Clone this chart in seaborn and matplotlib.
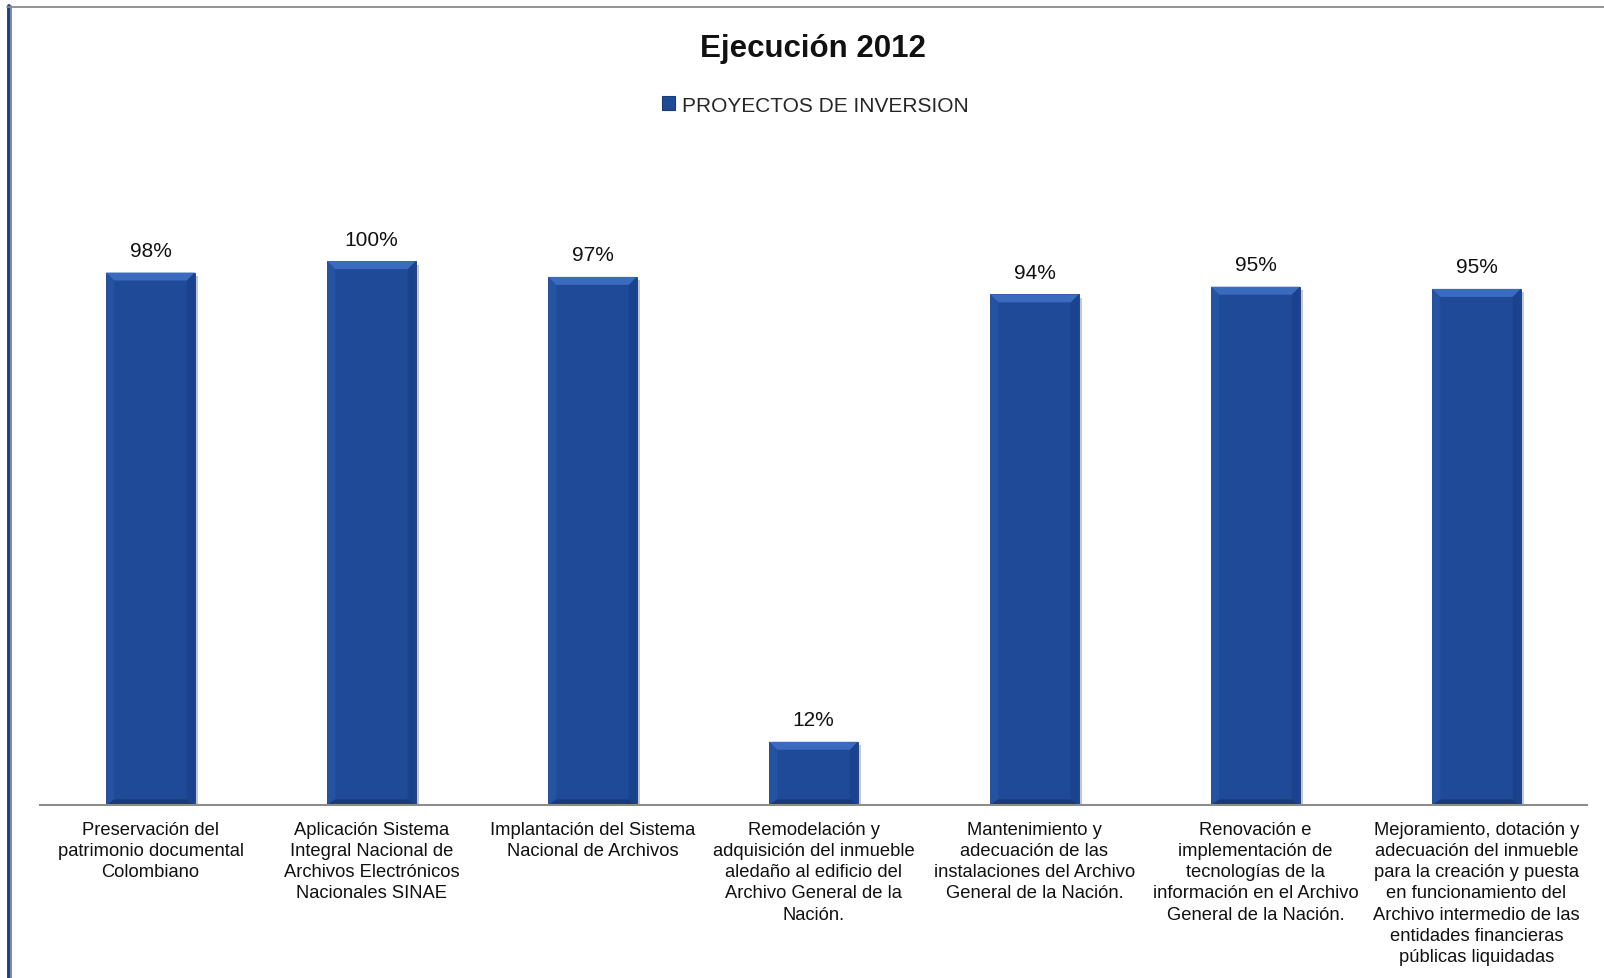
import matplotlib
matplotlib.use("Agg")
import matplotlib.pyplot as plt
import matplotlib.patheffects as pe
from matplotlib.lines import Line2D
from matplotlib.patches import Patch, Polygon
import seaborn as sns
import pandas as pd

categories = [
    "Preservación del\npatrimonio documental\nColombiano",
    "Aplicación Sistema\nIntegral Nacional de\nArchivos Electrónicos\nNacionales SINAE",
    "Implantación del Sistema\nNacional de Archivos",
    "Remodelación y\nadquisición del inmueble\naledaño al edificio del\nArchivo General de la\nNación.",
    "Mantenimiento y\nadecuación de las\ninstalaciones del Archivo\nGeneral de la Nación.",
    "Renovación e\nimplementación de\ntecnologías de la\ninformación en el Archivo\nGeneral de la Nación.",
    "Mejoramiento, dotación y\nadecuación del inmueble\npara la creación y puesta\nen funcionamiento del\nArchivo intermedio de las\nentidades financieras\npúblicas liquidadas",
]
values = [0.977, 0.998, 0.969, 0.116, 0.937, 0.951, 0.947]
value_labels = ["98%", "100%", "97%", "12%", "94%", "95%", "95%"]
series_name = "PROYECTOS DE INVERSION"
title = "Ejecución 2012"

sns.set_theme(style="white")
plt.rcParams["font.family"] = ["Liberation Sans", "DejaVu Sans"]

BAR = "#1F4A98"

fig = plt.figure(figsize=(16.04, 9.79), dpi=100)
fig.patch.set_facecolor("white")
ax = fig.add_axes([40 / 1604, 1 - 806 / 979, (1587 - 40) / 1604, 654 / 979])

df = pd.DataFrame({"cat": categories, "val": values})
sns.barplot(data=df, x="cat", y="val", color=BAR, width=0.4, ax=ax,
            edgecolor="#18397a", linewidth=0.6, saturation=1)

ax.set_xlim(-0.5, 6.5)
ax.set_ylim(0, 1.2)

for p in list(ax.patches):
    p.set_path_effects([pe.SimplePatchShadow(offset=(2.5, -2.5), alpha=0.22, shadow_rgbFace="black"),
                        pe.Normal()])

# bevel decoration derived from each bar patch
bx = 0.7 * 7 / 1547 * 8 / 0.7   # ~8 px in data x
by = 1.2 / 654 * 8              # ~8 px in data y
for p in list(ax.patches):
    x0, w, h = p.get_x(), p.get_width(), p.get_height()
    x1 = x0 + w
    top = [(x0, h), (x1, h), (x1 - bx, h - by), (x0 + bx, h - by)]
    left = [(x0, 0), (x0, h), (x0 + bx, h - by), (x0 + bx, by * 0.7)]
    right = [(x1, 0), (x1, h), (x1 - bx, h - by), (x1 - bx, by * 0.7)]
    bottom = [(x0, 0), (x1, 0), (x1 - bx, by * 0.7), (x0 + bx, by * 0.7)]
    for pts, col in [(left, "#2453A3"), (right, "#1B428C"), (bottom, "#19397A"), (top, "#3A6BBE")]:
        ax.add_patch(Polygon(pts, closed=True, facecolor=col, edgecolor="none", zorder=p.get_zorder() + 0.1))

ax.bar_label(ax.containers[0], labels=value_labels, padding=9, fontsize=15, color="#111111")

ax.set_xlabel("")
ax.set_ylabel("")
ax.set_yticks([])
ax.tick_params(axis="x", length=0, pad=11.5, labelsize=13.2, colors="#111111")
for t in ax.get_xticklabels():
    t.set_linespacing(1.32)
    t.set_verticalalignment("top")
for s in ["top", "left", "right"]:
    ax.spines[s].set_visible(False)
ax.spines["bottom"].set_color("#8c8c8c")
ax.spines["bottom"].set_linewidth(1.5)
ax.spines["bottom"].set_zorder(5)

fig.text(813 / 1604, 1 - 49 / 979, title, ha="center", va="center",
         fontsize=22.5, fontweight="bold", color="#111111")

handle = Patch(facecolor=BAR, edgecolor="#18397a", linewidth=0.8)
fig.legend([handle], [series_name], loc="center", bbox_to_anchor=(815 / 1604, 1 - 106 / 979),
           frameon=False, fontsize=15, handlelength=0.65, handleheight=0.65, handletextpad=0.3)

# frame borders
fig.add_artist(Line2D([8.5 / 1604, 8.5 / 1604], [0, 1 - 7 / 979], transform=fig.transFigure,
                      color="#1B3F8F", linewidth=2.8))
fig.add_artist(Line2D([11 / 1604, 11 / 1604], [0, 1 - 7 / 979], transform=fig.transFigure,
                      color="#8a8a8a", linewidth=1.4))
fig.add_artist(Line2D([7 / 1604, 1], [1 - 7.5 / 979, 1 - 7.5 / 979], transform=fig.transFigure,
                      color="#8a8a8a", linewidth=1.3))

fig.savefig("out.png", dpi=100, facecolor="white")
